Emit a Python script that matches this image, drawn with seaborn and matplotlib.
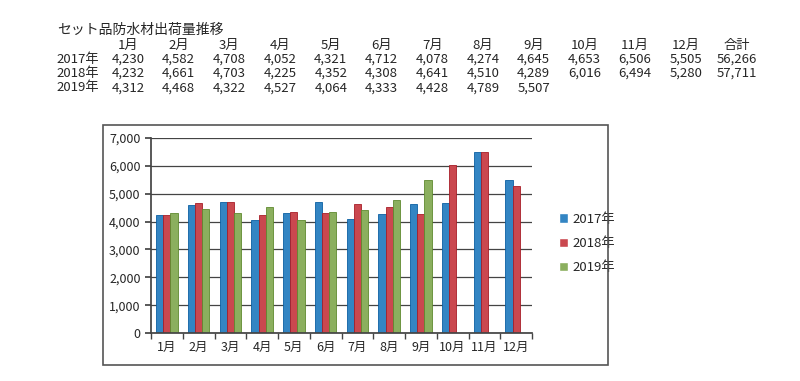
import numpy as np
import pandas as pd
import matplotlib.pyplot as plt
import seaborn as sns
from matplotlib.patches import Rectangle

months = ["1月", "2月", "3月", "4月", "5月", "6月", "7月", "8月", "9月", "10月", "11月", "12月"]
years = ["2017年", "2018年", "2019年"]
v2017 = [4230, 4582, 4708, 4052, 4321, 4712, 4078, 4274, 4645, 4653, 6506, 5505]
v2018 = [4232, 4661, 4703, 4225, 4352, 4308, 4641, 4510, 4289, 6016, 6494, 5280]
v2019 = [4312, 4468, 4322, 4527, 4064, 4333, 4428, 4789, 5507, np.nan, np.nan, np.nan]
totals = ["56,266", "57,711", ""]
title = "セット品防水材出荷量推移"

colors = ["#1b88db", "#e0323c", "#8dbd50"]
edges = ["#0b5fa3", "#a81e28", "#5f8a2f"]

sns.set_theme(style="white")
plt.rcParams['font.family'] = ['Noto Sans CJK JP', 'DejaVu Sans']

df = pd.DataFrame({
    "month": months * 3,
    "year": [y for y in years for _ in months],
    "value": v2017 + v2018 + v2019,
})

fig = plt.figure(figsize=(8, 3.81), dpi=100)

# ── tabela acima do gráfico ──
def fy(py):
    return 1 - py / 381

fig.text(57 / 800, fy(30), title, fontsize=10, va="center", ha="left")
col_x = [128 + 50.7 * i for i in range(13)]
for x, m in zip(col_x, months + ["合計"]):
    fig.text(x / 800, fy(45), m, fontsize=9.5, va="center", ha="center")
rows = [v2017, v2018, v2019]
for r, (yl, vals) in enumerate(zip(years, rows)):
    py = 59 + 14.5 * r
    fig.text(56 / 800, fy(py), yl, fontsize=9.5, va="center", ha="left")
    for x, v in zip(col_x, vals):
        if not np.isnan(v):
            fig.text(x / 800, fy(py), f"{int(v):,}", fontsize=9.5, va="center", ha="center")
    if totals[r]:
        fig.text(col_x[12] / 800, fy(py), totals[r], fontsize=9.5, va="center", ha="center")

# ── moldura do gráfico ──
fig.patches.append(Rectangle((103 / 800, fy(365)), 505 / 800, 240 / 381,
                             transform=fig.transFigure, fill=False,
                             edgecolor="#555555", linewidth=1.2))

ax = fig.add_axes([151 / 800, fy(333), 381 / 800, 195 / 381])
sns.barplot(data=df, x="month", y="value", hue="year", order=months,
            hue_order=years, palette=colors, width=0.68, gap=0,
            ax=ax, legend=True)

for container, ec in zip(ax.containers, edges):
    for bar in container:
        bar.set_edgecolor(ec)
        bar.set_linewidth(0.6)

ax.set_ylim(0, 7000)
ax.set_yticks(range(0, 7001, 1000))
ax.set_yticklabels([f"{t:,}" for t in range(0, 7001, 1000)], fontsize=9)
ax.set_xticklabels(months, fontsize=9)
ax.set_xlabel("")
ax.set_ylabel("")
ax.yaxis.grid(True, color="#444444", linewidth=0.9)
ax.set_axisbelow(True)
for s in ["top", "right"]:
    ax.spines[s].set_visible(False)
ax.spines["left"].set_color("#444444")
ax.spines["bottom"].set_color("#444444")
ax.set_xlim(-0.5, 11.5)
ax.set_xticks(np.arange(-0.5, 12, 1), minor=True)
ax.tick_params(axis="x", which="major", length=0, pad=6)
ax.tick_params(axis="x", which="minor", length=4, color="#444444", direction="out", bottom=True)
ax.tick_params(axis="y", length=4, color="#444444", direction="out", left=True)

leg = ax.legend(loc="center left", bbox_to_anchor=(1.04, 0.46), frameon=False,
                fontsize=9.5, handlelength=0.7, handleheight=0.7, handletextpad=0.3,
                labelspacing=0.85)

fig.savefig("out.png", dpi=100)
